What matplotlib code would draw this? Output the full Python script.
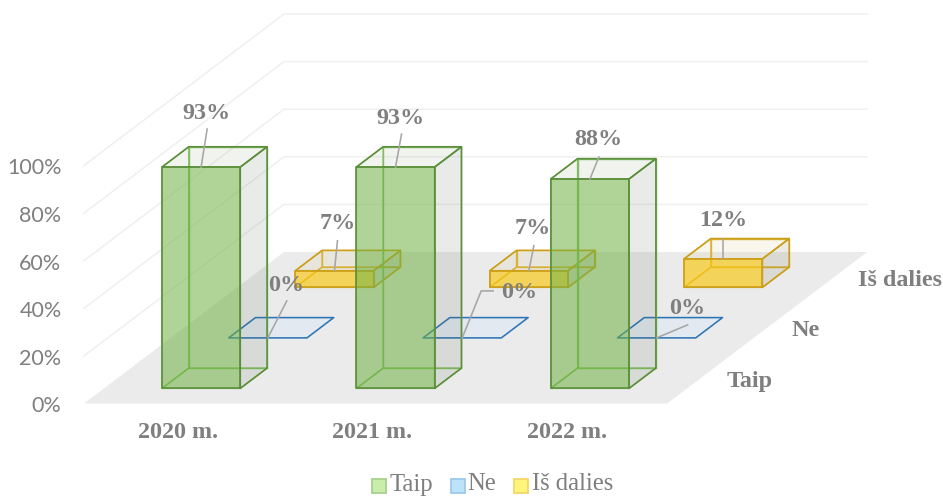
import matplotlib
matplotlib.use("Agg")
import matplotlib.pyplot as plt
from matplotlib.patches import Polygon, Rectangle

years = ["2020 m.", "2021 m.", "2022 m."]
rows = ["Taip", "Ne", "Iš dalies"]
taip = [93, 93, 88]
ne = [0, 0, 0]
is_dalies = [7, 7, 12]
z_ticks = [0, 20, 40, 60, 80, 100]

# label leader ends, pixels relative to middle of the bar's front top edge
taip_leaders = [[(6, -38)], [(6, -33)], [(9, -22)]]
ne_leaders = [[(19, -37)], [(19, -47), (31, -47)], [(31, -13)]]
dalies_leaders = [[(3, -30)], [(5, -25)], [(0, -20)]]
taip_text = [(5, -54), (5, -49), (8, -39)]
ne_text = [(18, -52), (57, -45), (31, -29)]
dalies_text = [(3, -47), (4, -42), (0, -38)]

# oblique projection of the chart box, in image pixels
X0, Y0 = 84.0, 403.5
CAT_W = 194.4
DEPTH_DX, DEPTH_DY = 200.0, -151.5
Z_PX = 2.38
BAR_W = 78.3 / CAT_W
ROW_D = 1 / 3
BAR_D = 0.134
BAR_D0 = (ROW_D - BAR_D) / 2


def project(x, d, z):
    return (X0 + x * CAT_W + d * DEPTH_DX, Y0 + d * DEPTH_DY - z * Z_PX)


def face(ax, pts, fc, ec, alpha, lw=1.15):
    ax.add_patch(Polygon(pts, closed=True, facecolor=fc, alpha=alpha, edgecolor="none", zorder=ax.next_z))
    ax.add_patch(Polygon(pts, closed=True, facecolor="none", edgecolor=ec, linewidth=lw,
                         joinstyle="round", zorder=ax.next_z))
    ax.next_z += 1


def draw_box(ax, cat, row, value, front, side, top, edge, hidden, front_alpha):
    x0 = cat + (1 - BAR_W) / 2
    x1 = x0 + BAR_W
    d0 = row * ROW_D + BAR_D0
    d1 = d0 + BAR_D
    if value == 0:
        pts = [project(x0, d0, 0), project(x1, d0, 0), project(x1, d1, 0), project(x0, d1, 0)]
        face(ax, pts, top, edge, 0.55)
        return
    # hidden faces first so they show through
    face(ax, [project(x0, d1, 0), project(x1, d1, 0), project(x1, d1, value), project(x0, d1, value)],
         "none", hidden, 1, lw=1.0)
    face(ax, [project(x0, d0, 0), project(x0, d1, 0), project(x0, d1, value), project(x0, d0, value)],
         "none", hidden, 1, lw=1.0)
    face(ax, [project(x0, d0, 0), project(x1, d0, 0), project(x1, d1, 0), project(x0, d1, 0)],
         "none", hidden, 1, lw=1.0)
    face(ax, [project(x1, d0, 0), project(x1, d1, 0), project(x1, d1, value), project(x1, d0, value)],
         side, edge, 0.13)
    face(ax, [project(x0, d0, value), project(x1, d0, value), project(x1, d1, value), project(x0, d1, value)],
         top, edge, 0.15)
    face(ax, [project(x0, d0, 0), project(x1, d0, 0), project(x1, d0, value), project(x0, d0, value)],
         front, edge, front_alpha)


def leader(ax, cat, row, value, bends, text_off, label):
    x = cat + 0.5
    d0 = row * ROW_D + BAR_D0
    sx, sy = project(x, d0, value)
    xs = [sx] + [sx + b[0] for b in bends]
    ys = [sy] + [sy + b[1] for b in bends]
    ax.plot(xs, ys, color="#A6A6A6", lw=1.15, zorder=500)
    ax.text(sx + text_off[0], sy + text_off[1], label, ha="center", va="center",
            fontsize=TEXT_SIZE, fontweight="bold", family="Liberation Serif", color=GREY, zorder=501)


GREY = "#7F7F7F"
TEXT_SIZE = 17.4

fig = plt.figure(figsize=(9.43, 4.96), dpi=100)
ax = fig.add_axes([0, 0, 1, 1])
ax.set_xlim(0, 943)
ax.set_ylim(496, 0)
ax.axis("off")
ax.next_z = 5

n_cat = len(years)

# walls
for z in z_ticks[1:]:
    pts = [project(0, 0, z), project(0, 1, z), project(n_cat, 1, z)]
    ax.plot(*zip(*pts), color="#F0F0F0", lw=1.15, zorder=2)
floor = [project(0, 0, 0), project(n_cat, 0, 0), project(n_cat, 1, 0), project(0, 1, 0)]
ax.add_patch(Polygon(floor, closed=True, facecolor="#EBEBEB", edgecolor="none", zorder=3))

# back row first
for c in range(n_cat):
    draw_box(ax, c, 2, is_dalies[c], "#F7C815", "#6B6436", "#D8C98A", "#CC9E1A", "#D9AE2C", 0.68)
for c in range(n_cat):
    draw_box(ax, c, 1, ne[c], "#DDE8F5", "#DDE8F5", "#DDE8F5", "#2E75B6", "#2E75B6", 0.6)
for c in range(n_cat):
    draw_box(ax, c, 0, taip[c], "#70B244", "#5C6B52", "#9DB08E", "#5B8E3C", "#7FBF5A", 0.55)

for c in range(n_cat):
    leader(ax, c, 0, taip[c], taip_leaders[c], taip_text[c], f"{taip[c]}%")
    leader(ax, c, 1, ne[c], ne_leaders[c], ne_text[c], f"{ne[c]}%")
    leader(ax, c, 2, is_dalies[c], dalies_leaders[c], dalies_text[c], f"{is_dalies[c]}%")

# axis texts
for z in z_ticks:
    ax.text(61.5, project(0, 0, z)[1] + 3, f"{z}%", ha="right", va="center", fontsize=15.5,
            family="Lato", color=GREY)
for c, name in enumerate(years):
    ax.text(178 + c * CAT_W, 433, name, ha="center", va="center", fontsize=TEXT_SIZE,
            fontweight="bold", family="Liberation Serif", color=GREY)
for (tx, ty), name in zip([(750, 382), (806, 330), (900, 280)], rows):
    ax.text(tx, ty, name, ha="center", va="center", fontsize=TEXT_SIZE,
            fontweight="bold", family="Liberation Serif", color=GREY)

# legend
legend_cols = [("#C9EDAB", "#A9D18E"), ("#BDE3FB", "#9DC9EE"), ("#FFF57A", "#F7D56A")]
for (fc, ec), sx, tx, name in zip(legend_cols, [372, 451, 514], [389, 467, 532], rows):
    ax.add_patch(Rectangle((sx, 479), 13.5, 13.5, facecolor=fc, edgecolor=ec, linewidth=1.3, zorder=5))
    ax.text(tx, 490.5, name, ha="left", va="baseline", fontsize=17.7, family="Liberation Serif",
            color=GREY)

fig.savefig("out.png", dpi=100)
